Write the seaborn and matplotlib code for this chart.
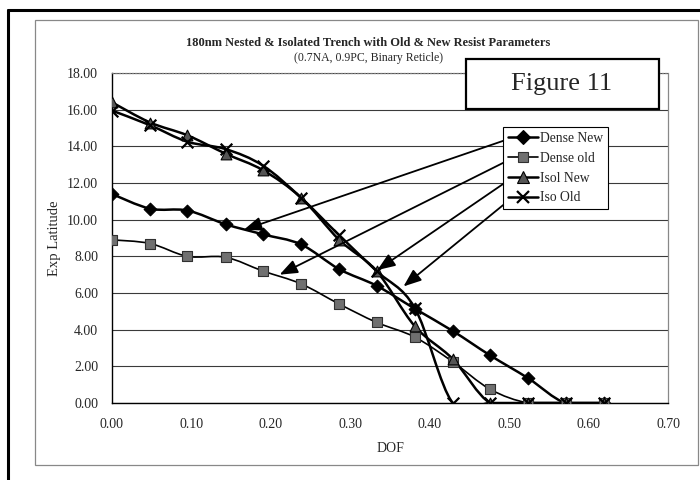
import numpy as np
import pandas as pd
import matplotlib
matplotlib.use("Agg")
import matplotlib.pyplot as plt
from matplotlib.path import Path
from matplotlib.patches import PathPatch, Rectangle
from matplotlib.lines import Line2D
import seaborn as sns

# ---------------- data ----------------
dof = [0.000, 0.048, 0.095, 0.143, 0.190, 0.238, 0.286, 0.333, 0.381, 0.429, 0.476, 0.524, 0.571, 0.619]
dense_new = [11.4, 10.6, 10.5, 9.75, 9.2, 8.65, 7.3, 6.4, 5.15, 3.93, 2.6, 1.35, 0.0, 0.0]
dense_old = [8.9, 8.7, 8.0, 7.95, 7.2, 6.5, 5.4, 4.4, 3.6, 2.25, 0.75, 0.0, 0.0, 0.0]
isol_new = [16.4, 15.3, 14.6, 13.6, 12.7, 11.2, 8.9, 7.2, 4.2, 2.4, 0.0, 0.0, 0.0, 0.0]
iso_old = [15.95, 15.15, 14.25, 13.85, 12.95, 11.2, 9.15, 7.2, 5.2, 0.0, 0.0, 0.0, 0.0, 0.0]
series_names = ["Dense New", "Dense old", "Isol New", "Iso Old"]
x_ticks = [0.0, 0.1, 0.2, 0.3, 0.4, 0.5, 0.6, 0.7]
y_ticks = [0, 2, 4, 6, 8, 10, 12, 14, 16, 18]
title = "180nm Nested & Isolated Trench with Old & New Resist Parameters"
subtitle = "(0.7NA, 0.9PC, Binary Reticle)"
x_label = "DOF"
y_label = "Exp Latitude"
fig_label = "Figure 11"

# arrow tips (where the legend callouts point) in data units
arrow_tips = [(0.166, 9.45), (0.211, 7.0), (0.334, 7.25), (0.367, 6.36)]

df = pd.DataFrame({"DOF": dof * 4,
                   "Lat": dense_new + dense_old + isol_new + iso_old,
                   "Series": sum([[n] * len(dof) for n in series_names], [])})

sns.set_style("white")
plt.rcParams["font.family"] = ["Liberation Serif", "DejaVu Serif"]

fig = plt.figure(figsize=(7, 4.8), dpi=100)
ax = fig.add_axes([0.16, 0.1604, 0.7943, 0.6875])

styles = {
    "Dense New": dict(marker="D", s=42, color="black", ec="black", lw=1.8),
    "Dense old": dict(marker="s", s=50, color="#707070", ec="#303030", lw=1.2),
    "Isol New": dict(marker="^", s=60, color="#555555", ec="black", lw=1.8),
    "Iso Old": dict(marker="x", s=70, color="black", ec="black", lw=1.8),
}


def smooth_path(xs, ys):
    pts = np.column_stack([xs, ys])
    n = len(pts)
    verts = [pts[0]]
    codes = [Path.MOVETO]
    for i in range(n - 1):
        p0 = pts[i - 1] if i > 0 else pts[i]
        p1 = pts[i]
        p2 = pts[i + 1]
        p3 = pts[i + 2] if i + 2 < n else pts[i + 1]
        c1 = p1 + (p2 - p0) / 6.0
        c2 = p2 - (p3 - p1) / 6.0
        verts += [c1, c2, p2]
        codes += [Path.CURVE4] * 3
    return Path(verts, codes)


for name in series_names:
    sub = df[df["Series"] == name]
    st = styles[name]
    ax.add_patch(PathPatch(smooth_path(sub["DOF"].values, sub["Lat"].values),
                           fill=False, edgecolor="black", lw=st["lw"], zorder=3))
    if st["marker"] == "x":
        sns.scatterplot(data=sub, x="DOF", y="Lat", marker="x", s=st["s"],
                        color="black", linewidth=1.6, ax=ax, zorder=4, legend=False)
    else:
        sns.scatterplot(data=sub, x="DOF", y="Lat", marker=st["marker"], s=st["s"],
                        color=st["color"], edgecolor=st["ec"], linewidth=0.8,
                        ax=ax, zorder=4, legend=False)

ax.set_xlim(0, 0.7)
ax.set_ylim(0, 18)
ax.set_xticks(x_ticks)
ax.set_yticks(y_ticks)
ax.set_xticklabels([f"{v:.2f}" for v in x_ticks], fontsize=10)
ax.set_yticklabels([f"{v:.2f}" for v in y_ticks], fontsize=10)
ax.tick_params(axis="both", direction="out", length=4, width=0.8, color="black", pad=6)
ax.tick_params(axis="x", pad=7)
ax.yaxis.grid(True, color="#3a3a3a", lw=0.8)
ax.xaxis.grid(False)
ax.set_axisbelow(True)
for side in ["left", "bottom"]:
    ax.spines[side].set_color("black")
    ax.spines[side].set_linewidth(1.0)
ax.spines["top"].set_color("#777777")
ax.spines["top"].set_linestyle(":")
ax.spines["top"].set_linewidth(0.9)
ax.spines["right"].set_color("#888888")
ax.spines["right"].set_linewidth(0.9)
ax.set_xlabel(x_label, fontsize=10, labelpad=8)
ax.set_ylabel(y_label, fontsize=10.5, labelpad=4)

# legend
handles = []
for name in series_names:
    st = styles[name]
    if st["marker"] == "x":
        h = Line2D([], [], color="black", lw=1.8, marker="x", markersize=8, mew=1.6)
    else:
        h = Line2D([], [], color="black", lw=1.8 if name != "Dense old" else 1.2,
                   marker=st["marker"], markersize=7 if st["marker"] != "^" else 8,
                   markerfacecolor=st["color"], markeredgecolor=st["ec"], mew=0.8)
    handles.append(h)
leg = ax.legend(handles, series_names, loc="upper left", bbox_to_anchor=(0.703, 0.836),
                borderaxespad=0, fontsize=9.8, handlelength=2.2, handletextpad=0.2,
                borderpad=0.35, labelspacing=0.5, frameon=True, fancybox=False,
                framealpha=1, edgecolor="black")
leg.get_frame().set_linewidth(0.8)
leg.set_zorder(5)

# callout arrows from legend to curves
starts = [(0.4925, 14.3), (0.4925, 13.1), (0.4925, 11.95), (0.4925, 10.8)]
for (sx, sy), (tx, ty) in zip(starts, arrow_tips):
    ax.annotate("", xy=(tx, ty), xytext=(sx, sy), xycoords="data", textcoords="data",
                arrowprops=dict(arrowstyle="-|>,head_length=0.9,head_width=0.35",
                                color="black", lw=1.3, mutation_scale=12,
                                shrinkA=0, shrinkB=0), zorder=6)

# titles
fig.text(0.526, 1 - 43 / 480, title, ha="center", va="center", fontsize=9, fontweight="bold")
fig.text(0.526, 1 - 58 / 480, subtitle, ha="center", va="center", fontsize=8.5)

# Figure 11 box
fig.patches.append(Rectangle((466 / 700, 1 - 109 / 480), (659 - 466) / 700, 50 / 480,
                             transform=fig.transFigure, fill=True, facecolor="white",
                             edgecolor="black", lw=1.6, zorder=7))
fig.text(562 / 700, 1 - 84 / 480, fig_label, ha="center", va="center", fontsize=19, zorder=8)

# frames
fig.patches.append(Rectangle((35 / 700, 1 - 465 / 480), (698 - 35) / 700, (465 - 20) / 480,
                             transform=fig.transFigure, fill=False, edgecolor="#888888",
                             lw=0.9, zorder=0))
fig.lines.append(Line2D([8 / 700, 8 / 700], [0, 1 - 10 / 480], transform=fig.transFigure,
                        color="black", lw=2.2))
fig.lines.append(Line2D([8 / 700, 1], [1 - 10 / 480, 1 - 10 / 480], transform=fig.transFigure,
                        color="black", lw=2.2))

fig.savefig("out.png", dpi=100)
